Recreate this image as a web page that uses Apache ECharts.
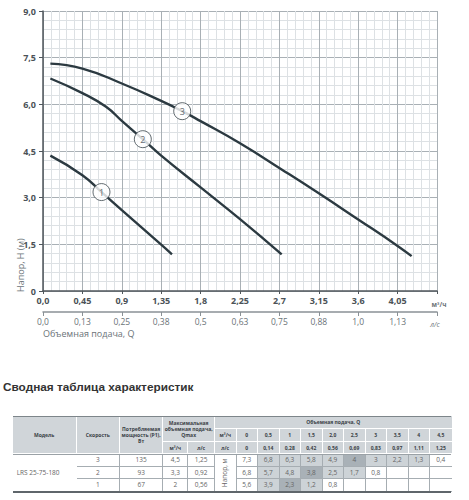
<!DOCTYPE html>
<html><head><meta charset="utf-8">
<script src="https://cdn.jsdelivr.net/npm/echarts@6/dist/echarts.min.js"></script>
<style>
html,body{margin:0;padding:0;background:#fff;width:469px;height:500px;overflow:hidden;font-family:"Open Sans",sans-serif;}
#chart{position:absolute;left:0;top:0;width:469px;height:345px;}
#title{position:absolute;left:3px;top:380px;font:bold 11.8px "Liberation Sans",Arial,sans-serif;color:#333;white-space:nowrap;}
#table{position:absolute;left:0;top:0;width:469px;height:500px;}
.c{position:absolute;box-sizing:border-box;display:flex;align-items:center;justify-content:center;text-align:center;line-height:1.2;overflow:hidden;white-space:nowrap;}
.h{background:#d0d5d9;color:#3a4146;font-weight:bold;font-size:5px;border-right:1px solid #fff;border-bottom:1px solid #fff;}
.b{color:#666;font-size:6.5px;border-right:1px solid #a6adb2;border-bottom:1px solid #a6adb2;}
.ln{position:absolute;}
</style></head>
<body>
<div id="chart"></div>
<div id="title">Сводная таблица характеристик</div>
<div id="table"></div>
<script>
// ---------- chart data ----------
const m3hTicks = ['0,0','0,45','0,9','1,35','1,8','2,25','2,7','3,15','3,6','4,05',''];
const lsTicks  = ['0,0','0,13','0,25','0,38','0,5','0,63','0,75','0,88','1,0','1,13',''];
const hTicks   = ['0','1,5','3,0','4,5','6,0','7,5','9,0'];
const curve1 = [[0.084,4.35],[0.45,3.72],[0.668,3.18],[0.9,2.6],[1.35,1.49],[1.473,1.18]];
const curve2 = [[0.084,6.83],[0.45,6.36],[0.72,5.92],[0.9,5.47],[1.14,4.88],[1.35,4.35],[1.8,3.33],[2.25,2.31],[2.726,1.18]];
const curve3 = [[0.084,7.31],[0.45,7.15],[0.9,6.67],[1.35,6.11],[1.59,5.78],[1.8,5.46],[2.25,4.75],[2.73,3.9],[3.15,3.14],[3.6,2.3],[4.05,1.45],[4.21,1.12]];
const curveLabels = [[0.668,3.18,'1'],[1.14,4.88,'2'],[1.59,5.78,'3']];

// ---------- table data ----------
const tableTitle = 'Сводная таблица характеристик';
const model = 'LRS 25-75-180';
const speeds = ['3','2','1'];
const power = ['135','93','67'];
const qmaxM3h = ['4,5','3,3','2'];
const qmaxLs = ['1,25','0,92','0,56'];
const qM3h = ['0','0,5','1','1,5','2,0','2,5','3','3,5','4','4,5'];
const qLs  = ['0','0,14','0,28','0,42','0,56','0,69','0,83','0,97','1,11','1,25'];
const headValues = [
  ['7,3','6,8','6,3','5,8','4,9','4','3','2,2','1,3','0,4'],
  ['6,8','5,7','4,8','3,8','2,5','1,7','0,8','','',''],
  ['5,6','3,9','2,3','1,2','0,8','','','','','']
];
const headShade = [
  [0,1,1,1,1,2,1,1,1,0],
  [0,1,1,2,1,1,0,0,0,0],
  [0,1,2,1,0,0,0,0,0,0]
];

// ---------- chart ----------
const chart = echarts.init(document.getElementById('chart'), null, {renderer:'svg'});
const lineColor = '#2c3a41';
const axisDark = '#50575c';
const mk = d => ({type:'line', data:d, showSymbol:false, smooth:0.5, silent:true, z:3,
  lineStyle:{color:lineColor, width:2.4}});
const ff = '"Open Sans", sans-serif';
chart.setOption({
  animation:false,
  grid:{left:43, top:11, width:394, height:280},
  xAxis:[{
    type:'value', min:0, max:4.5, interval:0.45, position:'bottom',
    axisLine:{show:true, onZero:false, lineStyle:{color:axisDark, width:1.5}},
    axisTick:{show:true, length:3, lineStyle:{color:axisDark}},
    axisLabel:{margin:5, fontSize:9, fontWeight:'bold', color:'#4b5257', fontFamily:ff,
      formatter:v => m3hTicks[Math.round(v/0.45)] || ''},
    splitLine:{show:true, lineStyle:{color:'#a9b0b5', width:1}},
    minorTick:{show:false, splitNumber:5},
    minorSplitLine:{show:true, lineStyle:{color:'#dde1e4', width:1}}
  },{
    type:'value', min:0, max:1.25, interval:0.125, position:'bottom', offset:21,
    axisLine:{show:true, onZero:false, lineStyle:{color:'#8a9196', width:1.5}},
    axisTick:{show:true, length:4, lineStyle:{color:'#8a9196'}},
    axisLabel:{margin:5, fontSize:8.5, color:'#6b7378', fontFamily:ff,
      formatter:v => lsTicks[Math.round(v/0.125)] || ''},
    splitLine:{show:false}
  }],
  yAxis:{
    type:'value', min:0, max:9, interval:1.5,
    axisLine:{show:true, onZero:false, lineStyle:{color:axisDark, width:1.5}},
    axisTick:{show:true, length:4, lineStyle:{color:axisDark}},
    axisLabel:{margin:7, fontSize:9, fontWeight:'bold', color:'#4b5257', fontFamily:ff,
      formatter:v => hTicks[Math.round(v/1.5)] || ''},
    splitLine:{show:true, lineStyle:{color:'#a9b0b5', width:1}},
    minorTick:{show:false, splitNumber:5},
    minorSplitLine:{show:true, lineStyle:{color:'#dde1e4', width:1}}
  },
  series:[mk(curve1), mk(curve2), mk(curve3), {
    type:'scatter', data:curveLabels, symbol:'circle', symbolSize:17, z:5, silent:true,
    itemStyle:{color:'#fff', borderColor:'#3b464c', borderWidth:1},
    label:{show:true, position:'inside', formatter:p => p.data[2], fontSize:9, color:'#3b464c', fontFamily:ff}
  }],
  graphic:[
    {type:'text', x:20, y:292, rotation:Math.PI/2, style:{text:'Напор, H (м)', fontSize:9, fontFamily:ff, fill:'#6b7378', align:'left', verticalAlign:'middle'}},
    {type:'text', x:43, y:333, style:{text:'Объемная подача, Q', fontSize:9, fontFamily:ff, fill:'#6b7378', align:'left', verticalAlign:'middle'}},
    {type:'text', x:439, y:304, style:{text:'м³/ч', fontSize:6.5, fontWeight:'bold', fontFamily:ff, fill:'#6b7378', align:'center', verticalAlign:'middle'}},
    {type:'text', x:435, y:324, style:{text:'л/с', fontSize:7, fontStyle:'italic', fontFamily:ff, fill:'#6b7378', align:'center', verticalAlign:'middle'}}
  ]
});

// ---------- table ----------
document.getElementById('title').textContent = tableTitle;
const T = document.getElementById('table');
const colX = [12.7, 76.7, 120, 163.3, 188.3, 215];
for (let i = 1; i <= 11; i++) colX.push(215 + 21.5*i);
const rowY = [416, 428.5, 442, 454.3, 467, 479.3, 491.7];
function cell(c0, c1, r0, r1, html, cls, extra) {
  const d = document.createElement('div');
  d.className = 'c ' + cls;
  d.style.left = colX[c0] + 'px';
  d.style.top = rowY[r0] + 'px';
  d.style.width = (colX[c1] - colX[c0]) + 'px';
  d.style.height = (rowY[r1] - rowY[r0]) + 'px';
  d.innerHTML = html;
  if (extra) Object.assign(d.style, extra);
  T.appendChild(d);
  return d;
}
function line(x, y, w, h, color) {
  const d = document.createElement('div');
  d.className = 'ln';
  Object.assign(d.style, {left:x+'px', top:y+'px', width:w+'px', height:h+'px', background:color});
  T.appendChild(d);
}
// header
cell(0,1,0,3,'Модель','h');
cell(1,2,0,3,'Скорость','h');
cell(2,3,0,3,'Потребляемая<br>мощность (P1),<br>Вт','h');
cell(3,5,0,2,'Максимальная<br>объемная подача,<br>Qmax','h');
cell(3,4,2,3,'м³/ч','h');
cell(4,5,2,3,'л/с','h');
cell(5,16,0,1,'Объемная подача, Q','h',{borderRight:'none'});
cell(5,6,1,2,'м³/ч','h');
cell(5,6,2,3,'л/с','h');
qM3h.forEach((t,i)=>cell(6+i,7+i,1,2,t,'h', i===9?{borderRight:'none'}:null));
qLs.forEach((t,i)=>cell(6+i,7+i,2,3,t,'h', i===9?{borderRight:'none'}:null));
// body
cell(0,1,3,6,model,'b',{justifyContent:'flex-start', paddingLeft:'4px', borderBottom:'none', borderRight:'none'});
speeds.forEach((t,i)=>cell(1,2,3+i,4+i,t,'b'));
power.forEach((t,i)=>cell(2,3,3+i,4+i,t,'b'));
qmaxM3h.forEach((t,i)=>cell(3,4,3+i,4+i,t,'b'));
qmaxLs.forEach((t,i)=>cell(4,5,3+i,4+i,t,'b'));
cell(5,6,3,6,'<span style="display:inline-block;transform:rotate(-90deg);">Напор, м</span>','b',{borderBottom:'none'});
const shadeCol = ['#ffffff','#cdd3d7','#a9b1b7'];
headValues.forEach((row,r)=>row.forEach((t,i)=>{
  cell(6+i,7+i,3+r,4+r,t,'b',{background:shadeCol[headShade[r][i]], borderRight: i===9?'none':'1px solid #a6adb2'});
}));
// outer lines
line(colX[0], rowY[0], colX[16]-colX[0], 1, '#7d858a');
line(colX[0], rowY[3]-0.5, colX[16]-colX[0], 1, '#9aa1a6');
line(colX[0], rowY[6]-0.5, colX[16]-colX[0], 1.6, '#5f666b');
</script></body></html>
